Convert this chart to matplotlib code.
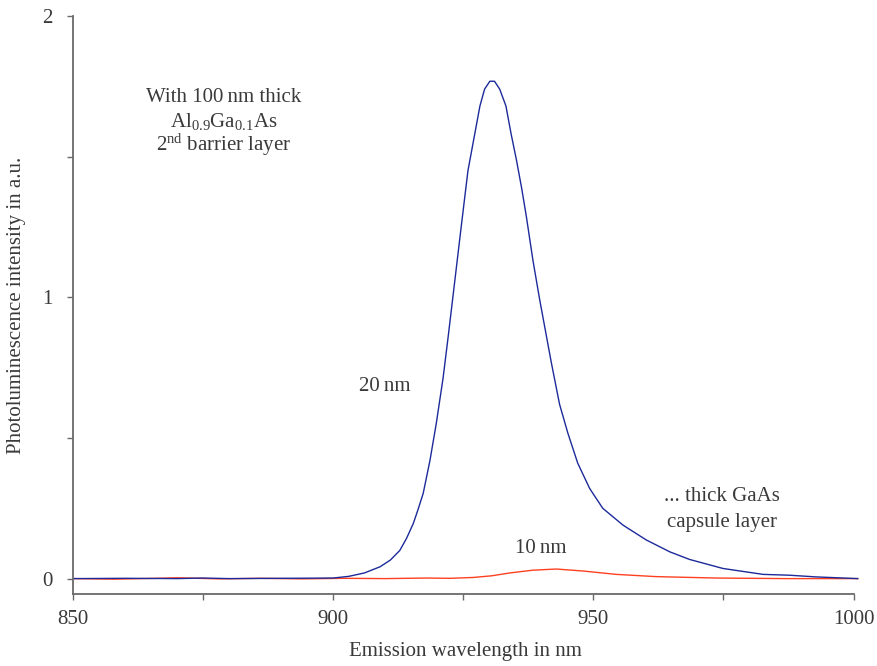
import matplotlib
matplotlib.use("Agg")
import matplotlib.pyplot as plt
import numpy as np

plt.rcParams['font.family'] = ['Liberation Serif', 'DejaVu Serif']
plt.rcParams['mathtext.fontset'] = 'custom'
plt.rcParams['mathtext.rm'] = 'Liberation Serif'
plt.rcParams['mathtext.it'] = 'Liberation Serif:italic'

# 20 nm capsule layer (blue)
wl_20 = [850, 860, 870, 875, 880, 890, 900, 903, 906, 909, 911, 912.8, 914.1, 915.4,
         916.3, 917.3, 918.6, 919.8, 921.1, 922.1, 923.0, 924.6, 925.9, 927.2, 928.2,
         929.1, 930.1, 931.0, 932.0, 933.2, 934.2, 935.2, 936.2, 937.1, 938.4, 939.7,
         941.0, 941.9, 943.5, 945.1, 947.0, 949.3, 951.8, 955.7, 960.2, 964.7, 968.5,
         974.9, 982.6, 987.7, 992.8, 1000.8]
pl_20 = [0.0, 0.001, 0.0, 0.002, 0.0, 0.001, 0.002, 0.008, 0.02, 0.042, 0.066, 0.10,
         0.143, 0.196, 0.245, 0.303, 0.42, 0.55, 0.71, 0.86, 1.00, 1.25, 1.45, 1.58,
         1.68, 1.74, 1.768, 1.768, 1.74, 1.68, 1.58, 1.49, 1.39, 1.29, 1.13, 0.99,
         0.86, 0.77, 0.62, 0.517, 0.41, 0.32, 0.25, 0.19, 0.137, 0.095, 0.068, 0.036,
         0.015, 0.012, 0.006, 0.0]

# 10 nm capsule layer (red)
wl_10 = [850, 858, 866, 870, 878, 886, 894, 902, 910, 918, 922.4, 926.9, 930.5, 933.9,
         938.4, 942.9, 948.0, 954.4, 962.1, 973.6, 987, 1000.8]
pl_10 = [0.0, -0.002, 0.001, 0.003, -0.001, 0.001, -0.001, 0.001, 0.0, 0.002, 0.001,
         0.004, 0.01, 0.02, 0.03, 0.034, 0.027, 0.015, 0.007, 0.002, 0.0, 0.0]

text_col = '#3a3a3a'
spine_col = '#6a6a6a'
fs = 15

fig = plt.figure(figsize=(8.78, 6.66), dpi=100)
ax = fig.add_axes([0.0831, 0.108, 0.895, 0.868])

ax.plot(wl_10, pl_10, color='#ff4020', lw=1.0)
ax.plot(wl_20, pl_20, color='#1c2a9a', lw=1.0)

ax.set_xlim(850, 1001)
ax.set_ylim(-0.055, 2)

for s in ['top', 'right']:
    ax.spines[s].set_visible(False)
for s in ['left', 'bottom']:
    ax.spines[s].set_color(spine_col)
    ax.spines[s].set_linewidth(1.3)
ax.spines['bottom'].set_bounds(850, 1000)
ax.spines['left'].set_bounds(-0.055, 2)

ax.set_xticks([850, 875, 900, 925, 950, 975, 1000])
ax.set_xticklabels(['850', '', '900', '', '950', '', '1000'])
ax.set_yticks([0, 0.5, 1, 1.5, 2])
ax.set_yticklabels(['0', '', '1', '', '2'])
ax.tick_params(direction='out', length=4.5, width=1, color=spine_col,
               labelcolor=text_col, labelsize=fs, pad=7)
ax.tick_params(axis='y', pad=10)

ax.set_xlabel('Emission wavelength in nm', fontsize=fs, color=text_col, labelpad=9)
ax.set_ylabel('Photoluminescence intensity in a.u.', fontsize=fs, color=text_col, labelpad=12)

tkw = dict(fontsize=fs, color=text_col, ha='center', va='center')
ax.text(879.0, 1.71, 'With 100\u2009nm thick', **tkw)
ax.text(879.0, 1.625, r'Al$_{0.9}$Ga$_{0.1}$As', **tkw)
ax.text(879.0, 1.54, r'2$^{\mathrm{nd}}$ barrier layer', **tkw)
ax.text(910.0, 0.683, '20\u2009nm', **tkw)
ax.text(939.8, 0.108, '10\u2009nm', **tkw)
ax.text(974.8, 0.293, '... thick GaAs', **tkw)
ax.text(974.8, 0.200, 'capsule layer', **tkw)

fig.savefig('out.png', dpi=100)
